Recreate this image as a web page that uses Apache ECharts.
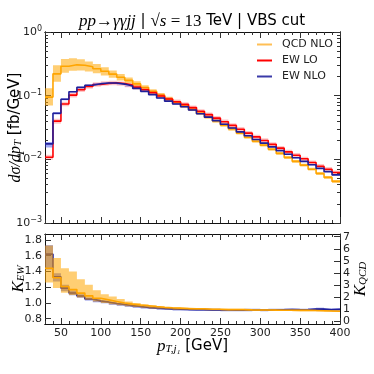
<!DOCTYPE html>
<html>
<head>
<meta charset="utf-8">
<script src="https://cdn.jsdelivr.net/npm/echarts@6/dist/echarts.min.js"></script>
<style>html,body{margin:0;padding:0;background:#fff}#chart{width:374px;height:374px}</style>
</head>
<body>
<div id="chart"></div>
<script>
// bin edges in GeV (10 GeV bins, 30..400)
var binEdges = [30, 40, 50, 60, 70, 80, 90, 100, 110, 120, 130, 140, 150, 160, 170, 180, 190, 200, 210, 220,
  230, 240, 250, 260, 270, 280, 290, 300, 310, 320, 330, 340, 350, 360, 370, 380, 390, 400];

// dsigma/dpT [fb/GeV]
var qcdNlo = [0.095, 0.22, 0.29, 0.305, 0.30, 0.285, 0.265, 0.242, 0.218, 0.195, 0.174, 0.153, 0.134, 0.117, 0.102,
  0.089, 0.078, 0.069, 0.061, 0.053, 0.046, 0.040, 0.0345, 0.030, 0.0258, 0.0222, 0.0192, 0.0167, 0.0144, 0.0124,
  0.0107, 0.0093, 0.0081, 0.0070, 0.0060, 0.0052, 0.0045];
var ewLo = [0.0108, 0.0398, 0.074, 0.102, 0.124, 0.139, 0.150, 0.156, 0.159, 0.155, 0.147, 0.136, 0.124, 0.111, 0.099,
  0.0886, 0.0804, 0.073, 0.065, 0.0568, 0.0504, 0.0444, 0.039, 0.0341, 0.0297, 0.0258, 0.0225, 0.0198, 0.0172, 0.015,
  0.0131, 0.0116, 0.0102, 0.0089, 0.0078, 0.0070, 0.0062];
var ewNlo = [0.0175, 0.053, 0.088, 0.115, 0.135, 0.146, 0.154, 0.158, 0.158, 0.152, 0.142, 0.130, 0.117, 0.104, 0.092,
  0.082, 0.074, 0.067, 0.0595, 0.052, 0.046, 0.0405, 0.0355, 0.031, 0.027, 0.0235, 0.0205, 0.018, 0.0157, 0.0137,
  0.012, 0.0106, 0.0093, 0.0082, 0.0072, 0.0064, 0.0057];

// relative scale uncertainties (down / up)
var qcdUncDn = [0.26, 0.25, 0.21, 0.19, 0.17, 0.16, 0.15, 0.14, 0.12, 0.11, 0.10, 0.09, 0.08, 0.07, 0.07, 0.07, 0.07,
  0.06, 0.06, 0.06, 0.06, 0.06, 0.06, 0.06, 0.05, 0.05, 0.05, 0.05, 0.05, 0.05, 0.05, 0.05, 0.05, 0.05, 0.05, 0.05, 0.05];
var qcdUncUp = [0.38, 0.37, 0.30, 0.27, 0.24, 0.21, 0.19, 0.16, 0.14, 0.12, 0.11, 0.10, 0.09, 0.08, 0.08, 0.08, 0.07,
  0.06, 0.06, 0.06, 0.06, 0.06, 0.06, 0.06, 0.05, 0.05, 0.05, 0.05, 0.05, 0.05, 0.05, 0.05, 0.05, 0.05, 0.05, 0.05, 0.05];
var ewLoUnc = [0.09, 0.09, 0.08, 0.08, 0.08, 0.08, 0.08, 0.08, 0.08, 0.08, 0.08, 0.08, 0.08, 0.08, 0.08, 0.08, 0.08,
  0.08, 0.08, 0.08, 0.08, 0.08, 0.08, 0.08, 0.08, 0.08, 0.08, 0.08, 0.08, 0.08, 0.08, 0.08, 0.08, 0.08, 0.08, 0.08, 0.08];
var ewNloDn = [0.12, 0.045, 0.035, 0.027, 0.02, 0.018, 0.017, 0.016, 0.016, 0.016, 0.016, 0.016, 0.016, 0.016, 0.016,
  0.016, 0.016, 0.016, 0.016, 0.016, 0.016, 0.016, 0.016, 0.016, 0.016, 0.016, 0.016, 0.016, 0.016, 0.016, 0.016,
  0.016, 0.016, 0.016, 0.016, 0.016, 0.016];
var ewNloUp = [0.07, 0.035, 0.035, 0.027, 0.02, 0.018, 0.017, 0.016, 0.016, 0.016, 0.016, 0.016, 0.016, 0.016, 0.016,
  0.016, 0.016, 0.016, 0.016, 0.016, 0.016, 0.016, 0.016, 0.016, 0.016, 0.016, 0.016, 0.016, 0.016, 0.016, 0.016,
  0.016, 0.016, 0.016, 0.016, 0.016, 0.016];

// K_QCD = QCD NLO / QCD LO (right axis) with its scale band
var kQcd = [4.39, 3.61, 2.89, 2.63, 2.34, 2.11, 1.91, 1.78, 1.65, 1.52, 1.43, 1.36, 1.30, 1.23, 1.17, 1.13, 1.10,
  1.07, 1.04, 1.04, 1.00, 1.00, 0.97, 0.97, 0.97, 0.95, 0.94, 0.94, 0.93, 0.92, 0.92, 0.91, 0.91, 0.90, 0.88, 0.86, 0.84];
var kQcdHi = [6.27, 5.23, 4.39, 4.13, 3.48, 3.02, 2.57, 2.24, 2.05, 1.85, 1.65, 1.52, 1.42, 1.33, 1.26, 1.20, 1.17,
  1.13, 1.10, 1.10, 1.07, 1.07, 1.04, 1.04, 1.04, 1.02, 1.01, 1.01, 1.00, 0.99, 0.99, 0.98, 0.98, 0.97, 0.95, 0.93, 0.91];
var kQcdLo = [3.22, 2.76, 2.37, 2.18, 1.98, 1.78, 1.65, 1.52, 1.42, 1.33, 1.26, 1.20, 1.13, 1.07, 1.04, 1.00, 0.97,
  0.97, 0.94, 0.94, 0.92, 0.92, 0.90, 0.90, 0.90, 0.88, 0.87, 0.87, 0.86, 0.85, 0.85, 0.84, 0.84, 0.83, 0.81, 0.79, 0.77];

// tick labels
var xMajorTicks = [50, 100, 150, 200, 250, 300, 350, 400];
var logMajorTicks = [-3, -2, -1, 0];
var kEwTicks = [0.8, 1.0, 1.2, 1.4, 1.6, 1.8];
var kQcdTicks = [0, 1, 2, 3, 4, 5, 6, 7];

var logMinorTicks = [];
for (var d = -3; d < 0; d++) {
  for (var m = 2; m <= 9; m++) logMinorTicks.push(d + Math.log10(m));
}

function mul(a, f, sign) {
  return a.map(function (v, i) { return v * (1 + sign * f[i]); });
}
var kEw = ewNlo.map(function (v, i) { return v / ewLo[i]; });

var ORANGE = '#ffa500', RED = '#ff0000', BLUE = '#1f1f9a';
var SANS = 'DejaVu Sans', SERIF = 'Liberation Serif';

function xAx(grid, pos, ticks, len, withLabels) {
  return {
    type: 'value', gridIndex: grid, position: pos, min: 30, max: 400,
    axisLine: { show: true, onZero: false, lineStyle: { color: '#111', width: 1 } },
    axisTick: { show: true, inside: true, length: len, customValues: ticks, lineStyle: { color: '#333', width: 1 } },
    axisLabel: withLabels ? { show: true, customValues: ticks, margin: 4, color: '#222', fontFamily: SANS, fontSize: 11 } : { show: false },
    splitLine: { show: false }
  };
}
function yAx(grid, pos, min, max, ticks, len, label) {
  return {
    type: 'value', gridIndex: grid, position: pos, min: min, max: max,
    axisLine: { show: true, onZero: false, lineStyle: { color: '#111', width: 1 } },
    axisTick: { show: true, inside: true, length: len, customValues: ticks, lineStyle: { color: '#333', width: 1 } },
    axisLabel: label ? Object.assign({ show: true, customValues: ticks, margin: 3, color: '#222', fontFamily: SANS, fontSize: 11 }, label) : { show: false },
    splitLine: { show: false }
  };
}

function bandSeries(xIdx, yIdx, lo, hi, color, z) {
  return {
    type: 'custom', xAxisIndex: xIdx, yAxisIndex: yIdx, z: z, silent: true, clip: true,
    data: [[binEdges[0], lo[0]]],
    renderItem: function (params, api) {
      var upper = [], lower = [];
      for (var i = 0; i < lo.length; i++) {
        upper.push(api.coord([binEdges[i], hi[i]]), api.coord([binEdges[i + 1], hi[i]]));
        lower.push(api.coord([binEdges[i], lo[i]]), api.coord([binEdges[i + 1], lo[i]]));
      }
      return { type: 'polygon', shape: { points: upper.concat(lower.reverse()) }, style: { fill: color } };
    }
  };
}
function stepSeries(name, xIdx, yIdx, values, color, z) {
  var pts = values.map(function (v, i) { return [binEdges[i], v]; });
  pts.push([binEdges[values.length], values[values.length - 1]]);
  return {
    type: 'line', name: name, xAxisIndex: xIdx, yAxisIndex: yIdx, data: pts, step: 'end',
    showSymbol: false, symbol: 'none', z: z, silent: true,
    lineStyle: { color: color, width: 1.6 }, itemStyle: { color: color }
  };
}

var supRich = {
  b: { fontFamily: SANS, fontSize: 11, color: '#222', lineHeight: 14 },
  s: { fontFamily: SANS, fontSize: 8, color: '#222', verticalAlign: 'top', lineHeight: 8 }
};
function mathRich(big) {
  return {
    m: { fontFamily: SERIF, fontStyle: 'italic', fontWeight: 'normal', fontSize: big, color: '#000' },
    r: { fontFamily: SERIF, fontWeight: 'normal', fontSize: big, color: '#000' },
    s: { fontFamily: SERIF, fontStyle: 'italic', fontWeight: 'normal', fontSize: 11, color: '#000', verticalAlign: 'bottom', padding: [6, 0, 0, 0] },
    t: { fontFamily: SANS, fontWeight: 'normal', fontSize: 15, color: '#000' }
  };
}

var chart = echarts.init(document.getElementById('chart'), null, { renderer: 'canvas' });
var option = {
  animation: false,
  title: {
    text: '{m|pp\u2192\u03b3\u03b3jj}{t| | }{r|\u221a}{m|s}{r| = 13}{t| TeV | VBS cut}',
    left: 74, top: 8,
    textStyle: { fontWeight: 'normal', rich: mathRich(17) }
  },
  legend: {
    orient: 'vertical', left: 252, top: 33, itemWidth: 15, itemHeight: 2, itemGap: 3, icon: 'rect',
    textStyle: { fontFamily: SANS, fontSize: 11, color: '#222', lineHeight: 13, padding: [0, 0, 0, 5] },
    data: [
      { name: 'QCD NLO', itemStyle: { color: '#ffbf55' } },
      { name: 'EW LO', itemStyle: { color: RED } },
      { name: 'EW NLO', itemStyle: { color: '#3a3aa8' } }
    ]
  },
  grid: [
    { left: 45, top: 32, width: 295, height: 191, containLabel: false, outerBoundsMode: 'none' },
    { left: 45, top: 234, width: 295, height: 90, containLabel: false, outerBoundsMode: 'none' }
  ],
  xAxis: [
    xAx(0, 'bottom', xMajorTicks, 6, false),
    xAx(0, 'bottom', binEdges, 3, false),
    xAx(0, 'top', xMajorTicks, 6, false),
    xAx(0, 'top', binEdges, 3, false),
    Object.assign(xAx(1, 'bottom', xMajorTicks, 6, true), {
      name: '{m|p}{s|T,j\u2081}{t| [GeV]}', nameLocation: 'middle', nameGap: 14, nameMoveOverlap: false,
      nameTextStyle: { rich: mathRich(17) }
    }),
    xAx(1, 'bottom', binEdges, 3, false),
    xAx(1, 'top', xMajorTicks, 6, false),
    xAx(1, 'top', binEdges, 3, false)
  ],
  yAxis: [
    { type: 'log', logBase: 10, gridIndex: 0, min: 0.001, max: 1, show: false },
    Object.assign(yAx(0, 'left', -3, 0, logMajorTicks, 6, {
      margin: 3,
      formatter: function (v) { return '{b|10}{s|' + (v === 0 ? '0' : '\u2212' + (-v)) + '}'; },
      rich: supRich
    }), {
      name: '{m|d\u03c3/dp}{s|T}{t| [fb/GeV]}', nameLocation: 'middle', nameGap: 21, nameRotate: 90, nameMoveOverlap: false,
      nameTextStyle: { rich: mathRich(16) }
    }),
    yAx(0, 'left', -3, 0, logMinorTicks, 3, null),
    yAx(0, 'right', -3, 0, logMajorTicks, 6, null),
    yAx(0, 'right', -3, 0, logMinorTicks, 3, null),
    Object.assign(yAx(1, 'left', 0.733, 1.876, kEwTicks, 6, {
      formatter: function (v) { return v.toFixed(1); }
    }), {
      name: '{m|K}{s|EW}', nameLocation: 'middle', nameGap: 18, nameRotate: 90, nameMoveOverlap: false,
      nameTextStyle: { rich: mathRich(17) }
    }),
    Object.assign(yAx(1, 'right', -0.214, 7.222, kQcdTicks, 6, {}), {
      name: '{m|K}{s|QCD}', nameLocation: 'middle', nameGap: 12, nameRotate: 90, nameMoveOverlap: false,
      nameTextStyle: { rich: mathRich(17) }
    })
  ],
  series: [
    bandSeries(0, 0, mul(qcdNlo, qcdUncDn, -1), mul(qcdNlo, qcdUncUp, 1), 'rgba(255,165,0,0.55)', 1),
    stepSeries('QCD NLO', 0, 0, qcdNlo, ORANGE, 2),
    bandSeries(0, 0, mul(ewLo, ewLoUnc, -1), mul(ewLo, ewLoUnc, 1), 'rgba(255,0,0,0.22)', 3),
    stepSeries('EW LO', 0, 0, ewLo, RED, 4),
    bandSeries(0, 0, mul(ewNlo, ewNloDn, -1), mul(ewNlo, ewNloUp, 1), 'rgba(40,60,230,0.45)', 5),
    stepSeries('EW NLO', 0, 0, ewNlo, BLUE, 6),

    bandSeries(4, 5, mul(kEw, ewNloDn, -1), mul(kEw, ewNloUp, 1), 'rgba(30,40,200,0.5)', 1),
    stepSeries('K_EW', 4, 5, kEw, BLUE, 2),
    bandSeries(4, 6, kQcdLo, kQcdHi, 'rgba(255,165,0,0.55)', 3),
    stepSeries('K_QCD', 4, 6, kQcd, ORANGE, 4)
  ]
};
chart.setOption(option);
</script>
</body>
</html>
